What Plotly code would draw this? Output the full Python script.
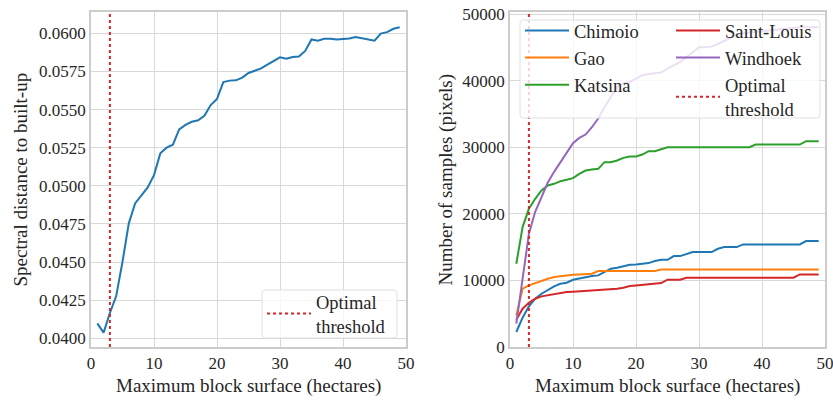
import plotly.graph_objects as go

x = list(range(1, 50))

spectral = [0.04098, 0.04037, 0.04166, 0.04277, 0.04502, 0.04754, 0.04885, 0.04940, 0.04990, 0.05070,
            0.05213, 0.05250, 0.05270, 0.05370, 0.05400, 0.05420, 0.05430, 0.05460, 0.05530, 0.05570,
            0.05680, 0.05690, 0.05692, 0.05710, 0.05740, 0.05755, 0.05770, 0.05795, 0.05820, 0.05843,
            0.05833, 0.05845, 0.05848, 0.05885, 0.05960, 0.05952, 0.05965, 0.05965, 0.05960, 0.05963,
            0.05966, 0.05976, 0.05968, 0.05958, 0.05952, 0.05998, 0.06008, 0.06030, 0.06040]

chimoio = [2250, 4400, 6100, 7250, 8000, 8600, 9100, 9500, 9650, 10100,
           10300, 10400, 10650, 10750, 11300, 11750, 11900, 12150, 12350, 12400,
           12500, 12600, 12900, 13100, 13100, 13650, 13650, 13900, 14250, 14250,
           14250, 14250, 14750, 15000, 15000, 15000, 15400, 15400, 15400, 15400,
           15400, 15400, 15400, 15400, 15400, 15400, 15900, 15900, 15900]

gao = [4750, 8750, 9250, 9600, 10000, 10250, 10500, 10650, 10750, 10850,
       10900, 11000, 11000, 11400, 11400, 11400, 11400, 11400, 11400, 11400,
       11400, 11400, 11400, 11650, 11650, 11650, 11650, 11650, 11650, 11650,
       11650, 11650, 11650, 11650, 11650, 11650, 11650, 11650, 11650, 11650,
       11650, 11650, 11650, 11650, 11650, 11650, 11650, 11650, 11650]

katsina = [12500, 18000, 20750, 22250, 23500, 24250, 24500, 24900, 25100, 25350,
           26000, 26500, 26650, 26750, 27750, 27750, 28000, 28400, 28600, 28600,
           28900, 29400, 29400, 29650, 30000, 30000, 30000, 30000, 30000, 30000,
           30000, 30000, 30000, 30000, 30000, 30000, 30000, 30000, 30400, 30400,
           30400, 30400, 30400, 30400, 30400, 30400, 30900, 30900, 30900]

saint_louis = [4100, 5750, 6650, 7250, 7600, 7750, 8000, 8150, 8250, 8300,
               8350, 8400, 8500, 8550, 8600, 8700, 8750, 8900, 9150, 9250,
               9350, 9500, 9600, 9600, 10100, 10100, 10100, 10400, 10400, 10400,
               10400, 10400, 10400, 10400, 10400, 10400, 10400, 10400, 10400, 10400,
               10400, 10400, 10400, 10400, 10400, 10900, 10900, 10900, 10900]

windhoek = [3500, 10500, 17000, 20300, 22500, 24700, 26300, 27800, 29300, 30600,
            31400, 31900, 33000, 34300, 36000, 37500, 39000, 39600, 39800, 40300,
            40800, 41000, 41100, 41200, 41800, 42300, 42800, 43500, 44300, 45000,
            45000, 45100, 45500, 46000, 46500, 46900, 47100, 47200, 47300, 47400,
            47500, 47600, 47700, 47800, 48000, 48000, 48000, 48000, 48000]

cities = ["Chimoio", "Gao", "Katsina", "Saint-Louis", "Windhoek"]
series = [chimoio, gao, katsina, saint_louis, windhoek]
colors = ["#1f77b4", "#ff7f0e", "#2ca02c", "#d62728", "#9467bd"]
legend_cols = ["legend2", "legend2", "legend2", "legend3", "legend3"]

optimal_x = 3
left_yticks = [0.0400, 0.0425, 0.0450, 0.0475, 0.0500, 0.0525, 0.0550, 0.0575, 0.0600]
right_yticks = [0, 10000, 20000, 30000, 40000, 50000]
xticks = [0, 10, 20, 30, 40, 50]

xtitle = "Maximum block surface (hectares)"
ytitle_left = "Spectral distance to built-up"
ytitle_right = "Number of samples (pixels)"

FONT = "'Liberation Serif', 'DejaVu Serif', serif"
FS = 17
FS_T = 19
FS_L = 18.5
TXT = "#262626"
grid = "#d8d8d8"
spine = "#cccccc"
W, H = 833.0, 400.0
L, R, T, B = 91, 8, 12, 53
PW, PH = W - L - R, H - T - B


def px(v):
    return (v - L) / PW


def py(v):
    return (H - B - v) / PH


def rounded_box(x0, y0, x1, y1, r=4):
    # pixel box -> paper-coordinate path with rounded corners
    X = lambda v: f"{px(v):.5f}"
    Y = lambda v: f"{py(v):.5f}"
    return (f"M{X(x0 + r)},{Y(y0)} L{X(x1 - r)},{Y(y0)} Q{X(x1)},{Y(y0)} {X(x1)},{Y(y0 + r)} "
            f"L{X(x1)},{Y(y1 - r)} Q{X(x1)},{Y(y1)} {X(x1 - r)},{Y(y1)} "
            f"L{X(x0 + r)},{Y(y1)} Q{X(x0)},{Y(y1)} {X(x0)},{Y(y1 - r)} "
            f"L{X(x0)},{Y(y0 + r)} Q{X(x0)},{Y(y0)} {X(x0 + r)},{Y(y0)} Z")


fig = go.Figure()

fig.add_trace(go.Scatter(x=x, y=spectral, mode="lines", line=dict(color="#1f77b4", width=2),
                         showlegend=False, xaxis="x", yaxis="y"))
fig.add_trace(go.Scatter(x=[optimal_x, optimal_x], y=[0.03943, 0.0614], mode="lines",
                         line=dict(color="#d62728", width=2, dash="dot"),
                         name="Optimal<br>threshold", legend="legend", xaxis="x", yaxis="y"))

for name, vals, col, lg in zip(cities, series, colors, legend_cols):
    fig.add_trace(go.Scatter(x=x, y=vals, mode="lines", line=dict(color=col, width=2),
                             name=name, legend=lg, xaxis="x2", yaxis="y2"))
fig.add_trace(go.Scatter(x=[optimal_x, optimal_x], y=[0, 50300], mode="lines",
                         line=dict(color="#d62728", width=2, dash="dot"),
                         name="Optimal<br>threshold", legend="legend3",
                         xaxis="x2", yaxis="y2"))

axis_common = dict(showgrid=True, gridcolor=grid, gridwidth=1, showline=True, linecolor=spine,
                   linewidth=1.5, mirror=True, zeroline=False, ticks="",
                   tickfont=dict(family=FONT, size=FS, color=TXT))

leg_common = dict(xref="container", yref="container", bgcolor="rgba(0,0,0,0)", borderwidth=0,
                  itemwidth=44, font=dict(family=FONT, size=FS_L, color=TXT),
                  xanchor="left", yanchor="top")

fig.update_layout(
    width=833, height=400,
    margin=dict(l=L, r=R, t=T, b=B, autoexpand=False),
    paper_bgcolor="white", plot_bgcolor="white",
    font=dict(family=FONT, size=FS, color=TXT),
    xaxis=dict(domain=[0, px(406)], range=[0, 50], tickvals=xticks,
               ticklabeloverflow="allow", **axis_common),
    yaxis=dict(range=[0.03943, 0.0614], tickvals=left_yticks, tickformat=".4f", **axis_common),
    xaxis2=dict(domain=[px(510), 1], range=[0, 50], tickvals=xticks, anchor="y2",
                ticklabeloverflow="allow", **axis_common),
    yaxis2=dict(range=[0, 50300], tickvals=right_yticks, tickformat="d", anchor="x2",
                **axis_common),
    legend=dict(x=262 / W, y=1 - 283 / H, **leg_common),
    legend2=dict(x=520 / W, y=1 - 12 / H, **leg_common),
    legend3=dict(x=671 / W, y=1 - 12 / H, **leg_common),
    shapes=[
        dict(type="path", xref="paper", yref="paper", path=rounded_box(262, 290, 397, 338),
             fillcolor="rgba(255,255,255,0.8)", line=dict(color="#e0e0e0", width=1), layer="above"),
        dict(type="path", xref="paper", yref="paper", path=rounded_box(520, 20, 820, 118),
             fillcolor="rgba(255,255,255,0.8)", line=dict(color="#e0e0e0", width=1), layer="above"),
    ],
    annotations=[
        dict(text=xtitle, xref="paper", yref="paper", x=px(248.5), y=py(386), showarrow=False,
             xanchor="center", yanchor="middle", font=dict(family=FONT, size=FS_T, color=TXT)),
        dict(text=xtitle, xref="paper", yref="paper", x=px(667.5), y=py(386), showarrow=False,
             xanchor="center", yanchor="middle", font=dict(family=FONT, size=FS_T, color=TXT)),
        dict(text=ytitle_left, xref="paper", yref="paper", x=px(20), y=py(179.5), showarrow=False,
             textangle=-90, xanchor="center", yanchor="middle",
             font=dict(family=FONT, size=FS_T, color=TXT)),
        dict(text=ytitle_right, xref="paper", yref="paper", x=px(445), y=py(179.5), showarrow=False,
             textangle=-90, xanchor="center", yanchor="middle",
             font=dict(family=FONT, size=FS_T, color=TXT)),
    ],
)

fig.write_html("out.html")
